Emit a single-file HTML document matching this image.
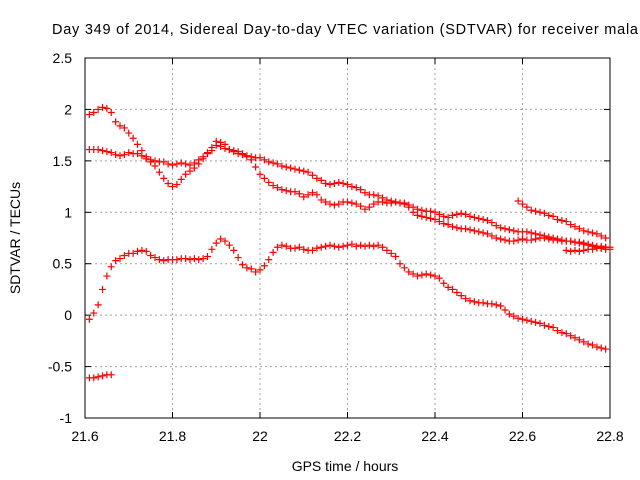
<!DOCTYPE html>
<html><head><meta charset="utf-8"><style>
html,body{margin:0;padding:0;background:#fff}
svg{display:block;font-family:"Liberation Sans",sans-serif}
</style></head><body>
<svg id="chart" width="640" height="480">
<text x="52" y="34" font-size="14.5" textLength="586" lengthAdjust="spacing" fill="#000">Day 349 of 2014, Sidereal Day-to-day VTEC variation (SDTVAR) for receiver mala</text>
<text x="345" y="471" font-size="14" text-anchor="middle">GPS time / hours</text>
<text x="20" y="238" font-size="14" text-anchor="middle" transform="rotate(-90 20 238)">SDTVAR / TECUs</text>
<g id="grid"></g>
<g id="axes"></g>
<g id="marks"></g>
</svg>
<script>
const xTicks=[21.6,21.8,22,22.2,22.4,22.6,22.8];
const xTickLabels=["21.6","21.8","22","22.2","22.4","22.6","22.8"];
const yTicks=[-1,-0.5,0,0.5,1,1.5,2,2.5];
const yTickLabels=["-1","-0.5","0","0.5","1","1.5","2","2.5"];
const step=0.01;
const s1Start=21.61;
const s1=[1.95,1.97,2.0,2.02,2.01,1.97,1.88,1.84,1.82,1.77,1.72,1.66,1.60,1.54,1.49,1.45,1.39,1.33,1.28,1.25,1.27,1.32,1.37,1.40,1.43,1.47,1.52,1.58,1.63,1.69,1.68,1.66,1.61,1.59,1.57,1.56,1.54,1.51,1.44,1.37,1.33,1.29,1.26,1.24,1.22,1.21,1.20,1.20,1.18,1.15,1.17,1.19,1.17,1.12,1.10,1.08,1.07,1.08,1.10,1.10,
1.09,1.08,1.06,1.03,1.05,1.08,1.10,1.10,1.09,1.09,1.10,1.09,1.08,1.05,1.00,0.97,0.96,0.95,0.94,0.93,0.91,0.89,0.88,0.86,0.85,0.84,0.84,0.83,0.82,0.81,0.80,0.79,0.77,0.75,0.74,0.73,0.72,0.72,0.73,0.74,0.73,0.73,0.74,0.75,0.75,0.74,0.73,0.73,0.72,0.72,0.72,0.71,0.70,0.69,0.68,0.67,0.66,0.65,0.64,0.64];
const s2Start=21.61;
const s2=[1.61,1.61,1.61,1.60,1.59,1.58,1.56,1.55,1.56,1.58,1.57,1.57,1.55,1.52,1.51,1.50,1.49,1.49,1.47,1.46,1.47,1.48,1.47,1.46,1.48,1.51,1.54,1.57,1.60,1.65,1.64,1.62,1.61,1.60,1.59,1.57,1.55,1.54,1.53,1.53,1.51,1.49,1.48,1.47,1.45,1.44,1.43,1.42,1.41,1.40,1.39,1.36,1.33,1.31,1.28,1.27,1.28,1.29,1.28,1.27,1.25,1.24,1.22,1.19,1.17,1.17,1.16,1.14,1.12,1.11,1.10,1.09,1.09,1.07,1.05,1.03,1.02,1.01,1.01,1.00,0.98,0.96,0.95,0.97,0.98,0.99,0.98,0.96,0.95,0.94,0.93,0.92,0.90,0.87,0.85,0.84,0.83,0.82,0.81,0.81,0.81,0.80,0.79,0.78,0.77,0.76,0.75,0.74,0.73,0.72,0.72,0.71,0.71,0.70,0.69,0.68,0.67,0.67,0.66,0.66];
const s3Start=22.59;
const s3=[1.11,1.08,1.05,1.02,1.01,1.00,0.99,0.97,0.96,0.93,0.92,0.91,0.88,0.86,0.84,0.82,0.81,0.80,0.79,0.77,0.75];
const s4Start=22.70;
const s4=[0.63,0.62,0.63,0.62,0.63,0.64,0.64,0.65,0.65,0.66];
const s5Start=21.61;
const s5=[-0.04,0.02,0.10,0.25,0.38,0.47,0.53,0.55,0.58,0.60,0.60,0.62,0.63,0.62,0.58,0.56,0.54,0.53,0.54,0.54,0.54,0.55,0.55,0.54,0.55,0.54,0.55,0.57,0.64,0.70,0.74,0.72,0.68,0.63,0.56,0.49,0.46,0.45,0.42,0.44,0.48,0.54,0.61,0.66,0.68,0.67,0.65,0.65,0.66,0.64,0.63,0.63,0.65,0.66,0.67,0.68,0.67,0.66,0.67,0.68,0.69,0.67,0.68,0.67,0.68,0.67,0.68,0.66,0.63,0.60,0.57,0.50,0.46,0.42,0.40,0.38,0.39,0.40,0.39,0.38,0.36,0.31,0.27,0.25,0.22,0.19,0.16,0.14,0.13,0.12,0.12,0.11,0.11,0.10,0.09,0.05,0.01,-0.01,-0.03,-0.04,-0.05,-0.06,-0.07,-0.08,-0.10,-0.11,-0.12,-0.15,-0.17,-0.18,-0.20,-0.22,-0.24,-0.26,-0.28,-0.29,-0.31,-0.32,-0.33];
const s6Start=21.61;
const s6=[-0.61,-0.61,-0.60,-0.59,-0.58,-0.58];

const NS="http://www.w3.org/2000/svg";
const L=85,R=610,T=58,B=418;
const xMin=21.6,xMax=22.8,yMin=-1,yMax=2.5;
function xs(v){return L+(v-xMin)/(xMax-xMin)*(R-L);}
function ys(v){return B-(v-yMin)/(yMax-yMin)*(B-T);}
function mk(tag,attrs,parent){const e=document.createElementNS(NS,tag);for(const k in attrs)e.setAttribute(k,attrs[k]);parent.appendChild(e);return e;}
const grid=document.getElementById('grid'),axes=document.getElementById('axes'),marks=document.getElementById('marks');
xTicks.forEach((t,i)=>{
  const x=xs(t);
  if(i>0&&i<xTicks.length-1){const g=mk('line',{x1:x,x2:x,y1:T,y2:B,stroke:'#a0a0a0','stroke-dasharray':'2,3'},grid);
  
  }
  mk('line',{x1:x,x2:x,y1:B,y2:B-6,stroke:'#000'},axes);
  mk('line',{x1:x,x2:x,y1:T,y2:T+6,stroke:'#000'},axes);
  const tx=mk('text',{x:x,y:441,'font-size':14,'text-anchor':'middle'},axes);tx.textContent=xTickLabels[i];
  
  
});
yTicks.forEach((t,i)=>{
  const y=ys(t);
  if(i>0&&i<yTicks.length-1){const g=mk('line',{x1:L,x2:R,y1:y,y2:y,stroke:'#a0a0a0','stroke-dasharray':'2,3'},grid);
  
  }
  mk('line',{x1:L,x2:L+6,y1:y,y2:y,stroke:'#000'},axes);
  mk('line',{x1:R,x2:R-6,y1:y,y2:y,stroke:'#000'},axes);
  const tx=mk('text',{x:72,y:y+5,'font-size':14,'text-anchor':'end'},axes);tx.textContent=yTickLabels[i];
  
  
});
const frame=mk('rect',{x:L,y:T,width:R-L,height:B-T,fill:'none',stroke:'#000'},axes);


const series=[[s1Start,s1],[s2Start,s2],[s3Start,s3],[s4Start,s4],[s5Start,s5],[s6Start,s6]];
series.forEach(([x0,vals],si)=>{
  const g=mk('g',{stroke:'#ff0000','stroke-width':1.2},marks);
  
  
  vals.forEach((v,i)=>{
    const x=xs(x0+i*step),y=ys(v);
    const p=mk('path',{d:`M${x-3.5},${y}H${x+3.5}M${x},${y-3.5}V${y+3.5}`},g);
    
    
  });
});
</script>
</body></html>
